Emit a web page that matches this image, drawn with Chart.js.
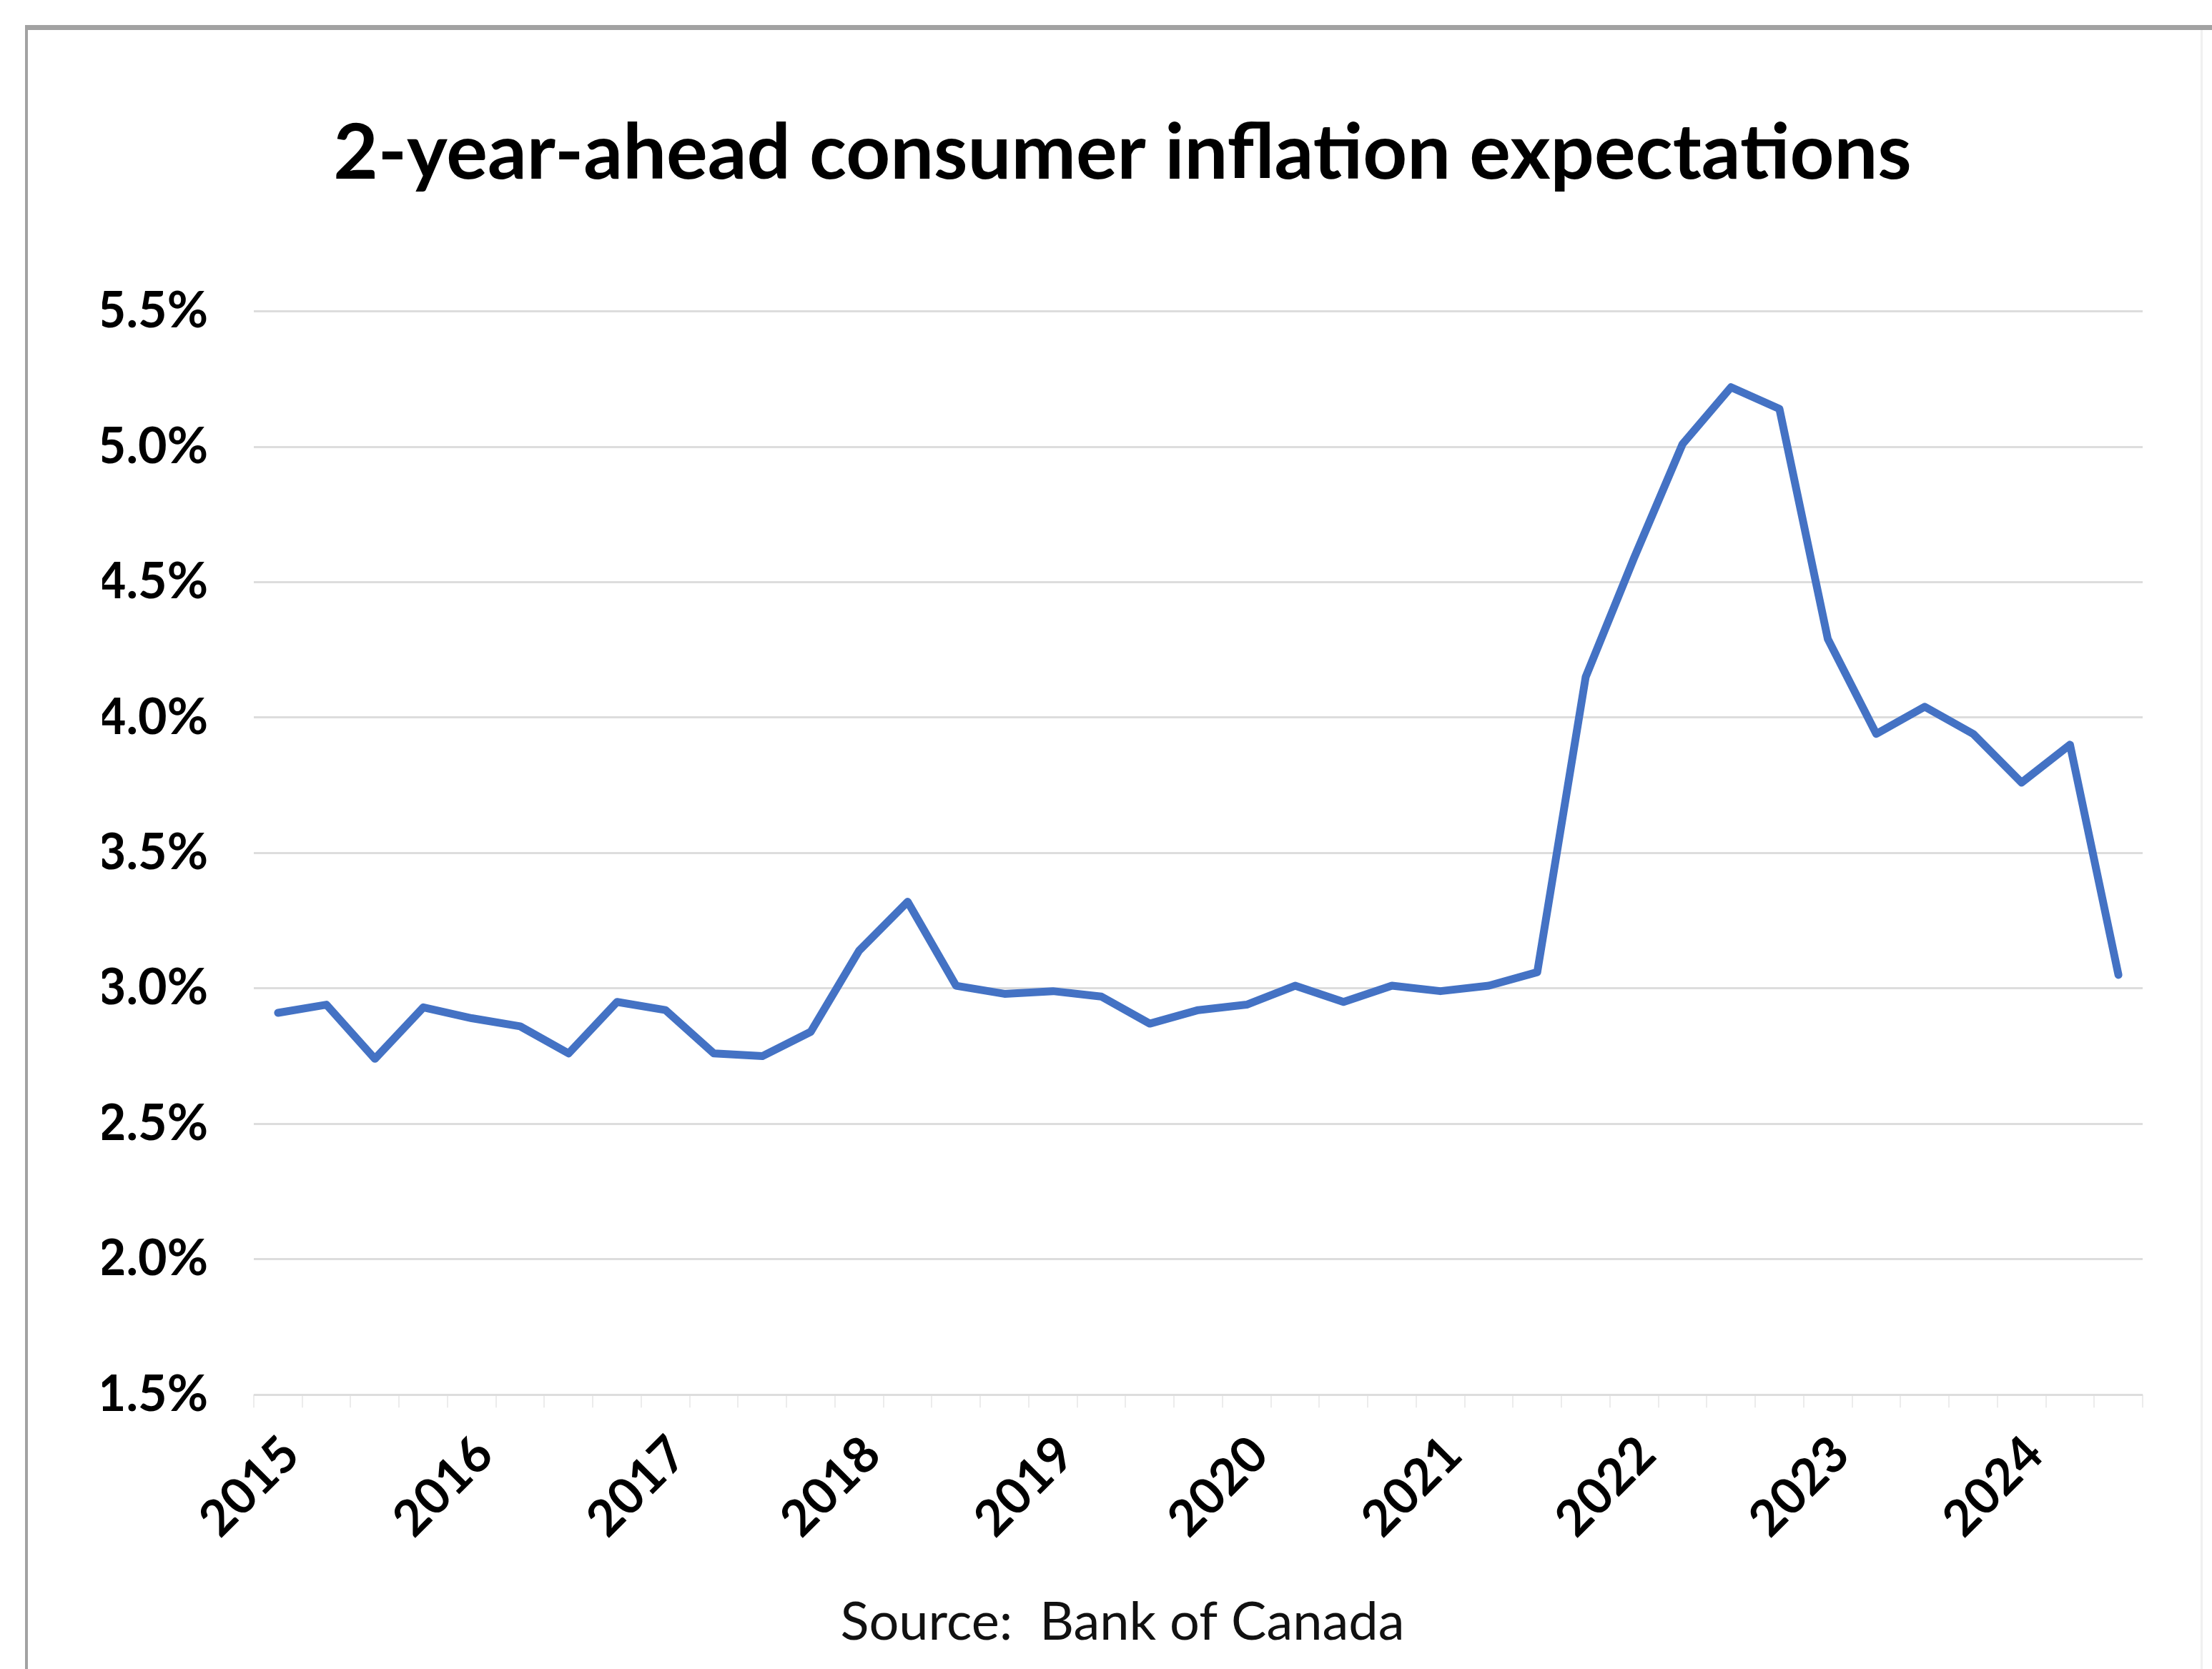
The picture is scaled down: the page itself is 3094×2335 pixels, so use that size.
<!DOCTYPE html>
<html>
<head>
<meta charset="utf-8">
<title>2-year-ahead consumer inflation expectations</title>
<script src="https://cdn.jsdelivr.net/npm/chart.js@4.4.1/dist/chart.umd.min.js"></script>
<style>
  html, body { margin: 0; padding: 0; background: #ffffff; }
  canvas { display: block; }
</style>
</head>
<body>
<canvas id="chart" width="3094" height="2335"></canvas>
<script>
// Quarterly survey periods, 2015 Q1 – 2024 Q3
const quarters = [
  '2015 Q1','2015 Q2','2015 Q3','2015 Q4',
  '2016 Q1','2016 Q2','2016 Q3','2016 Q4',
  '2017 Q1','2017 Q2','2017 Q3','2017 Q4',
  '2018 Q1','2018 Q2','2018 Q3','2018 Q4',
  '2019 Q1','2019 Q2','2019 Q3','2019 Q4',
  '2020 Q1','2020 Q2','2020 Q3','2020 Q4',
  '2021 Q1','2021 Q2','2021 Q3','2021 Q4',
  '2022 Q1','2022 Q2','2022 Q3','2022 Q4',
  '2023 Q1','2023 Q2','2023 Q3','2023 Q4',
  '2024 Q1','2024 Q2','2024 Q3'
];

// 2-year-ahead expected inflation (%)
const expectations = [
  2.91, 2.94, 2.74, 2.93,
  2.89, 2.86, 2.76, 2.95,
  2.92, 2.76, 2.75, 2.84,
  3.14, 3.32, 3.01, 2.98,
  2.99, 2.97, 2.87, 2.92,
  2.94, 3.01, 2.95, 3.01,
  2.99, 3.01, 3.06, 4.15,
  4.59, 5.01, 5.22, 5.14,
  4.29, 3.94, 4.04, 3.94,
  3.76, 3.90, 3.05
];

// Year labels shown under the first quarter of each year
const yearTicks = quarters.map(q => q.endsWith('Q1') ? q.slice(0, 4) : '');

// Percent axis
const yMin = 1.5;
const yMax = 5.5;
const yStep = 0.5;

const FONT = "Lato, 'Open Sans', 'DejaVu Sans', sans-serif";

// White background plus the grey frame around the chart
const framePlugin = {
  id: 'frame',
  beforeDraw(chart) {
    const ctx = chart.ctx;
    ctx.save();
    ctx.fillStyle = '#ffffff';
    ctx.fillRect(0, 0, chart.width, chart.height);
    ctx.fillStyle = '#a2a2a2';
    ctx.fillRect(36, 35, chart.width - 36, 7);
    ctx.fillRect(35, 35, 4, chart.height - 35);
    ctx.fillStyle = '#f0f0f0';
    ctx.fillRect(3078, 42, 3, chart.height - 42);
    ctx.restore();
  }
};

new Chart(document.getElementById('chart'), {
  type: 'line',
  data: {
    labels: quarters,
    datasets: [{
      data: expectations,
      borderColor: '#4472C4',
      borderWidth: 11,
      pointRadius: 0,
      tension: 0,
      borderJoinStyle: 'round',
      borderCapStyle: 'round',
      fill: false
    }]
  },
  options: {
    responsive: false,
    devicePixelRatio: 1,
    animation: false,
    layout: { padding: { left: 143, right: 97, top: 0, bottom: 0 } },
    plugins: {
      legend: { display: false },
      tooltip: { enabled: false },
      title: {
        display: true,
        text: '2-year-ahead consumer inflation expectations',
        color: '#000000',
        font: { family: FONT, weight: 'bold', size: 108, lineHeight: 1.2 },
        padding: { top: 150, bottom: 156 }
      },
      subtitle: {
        display: true,
        position: 'bottom',
        text: 'Source:  Bank of Canada',
        color: '#111111',
        font: { family: FONT, weight: 'normal', size: 74, lineHeight: 1.2 },
        padding: { top: 0, bottom: 20 }
      }
    },
    scales: {
      x: {
        type: 'category',
        offset: true,
        grid: {
          offset: true,
          drawOnChartArea: false,
          drawTicks: true,
          tickLength: 18,
          color: '#ececec',
          lineWidth: 2
        },
        border: { display: false },
        ticks: {
          autoSkip: false,
          maxRotation: 45,
          minRotation: 45,
          padding: 24,
          labelOffset: 18,
          color: '#000000',
          font: { family: FONT, weight: 'bold', size: 70 },
          callback: (value, index) => yearTicks[index]
        },
        afterFit(scale) { scale.height = 275; }
      },
      y: {
        min: yMin,
        max: yMax,
        border: { display: false },
        grid: {
          color: '#dddddd',
          lineWidth: 3,
          drawTicks: false
        },
        ticks: {
          stepSize: yStep,
          padding: 64,
          color: '#000000',
          font: { family: FONT, weight: 'bold', size: 70 },
          callback: v => v.toFixed(1) + '%'
        },
        afterFit(scale) { scale.width = 212; }
      }
    }
  },
  plugins: [framePlugin]
});
</script>
</body>
</html>
